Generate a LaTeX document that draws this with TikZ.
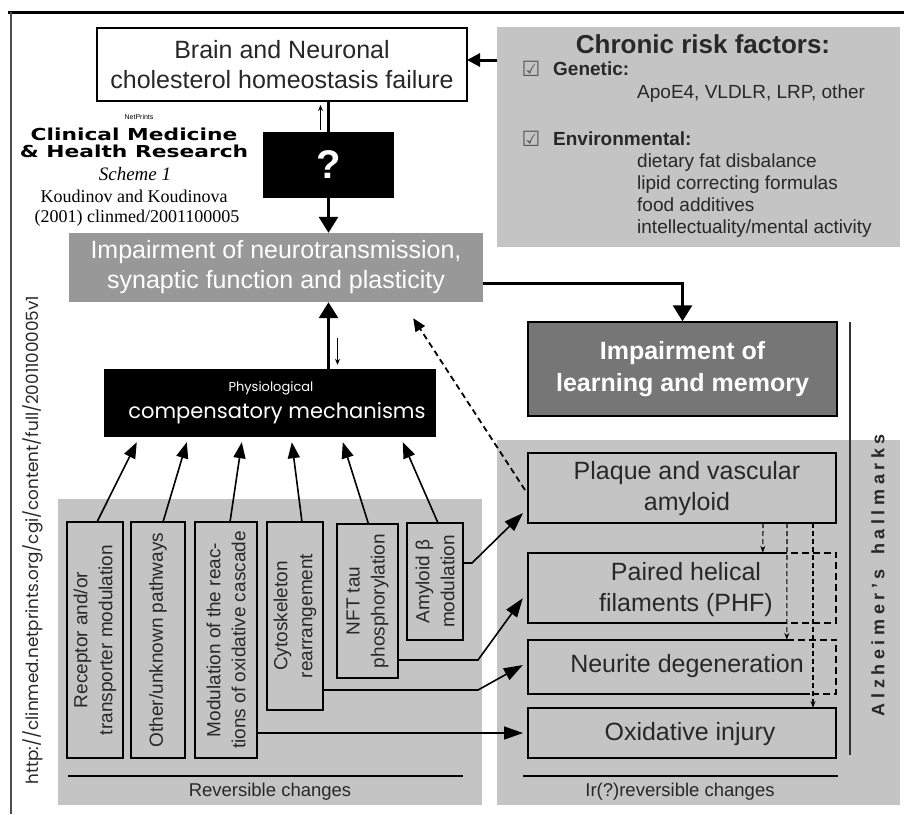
\documentclass[tikz,border=0pt]{standalone}
\usepackage{fontspec}
\setmainfont{Liberation Sans}
\newfontfamily\seriffont{Liberation Serif}
\newfontfamily\symfont{DejaVu Sans}
\newfontfamily\geofont{Poppins}
\newfontfamily\logofont{DejaVu Sans}[FakeStretch=1.32]
\usetikzlibrary{arrows.meta,calc}
\definecolor{regbg}{RGB}{196,196,196}
\definecolor{neurobg}{RGB}{152,152,152}
\definecolor{learnbg}{RGB}{118,118,118}
\definecolor{txtgray}{RGB}{40,40,40}
\newcommand\fs[2]{\fontsize{#1}{#2}\selectfont}
\newcommand\myls{\hspace{4.6pt}}
\begin{document}
\begin{tikzpicture}[x=1pt,y=-1pt,
  box/.style={draw=black,line width=1.5pt,inner sep=0pt,outer sep=0pt},
  lbox/.style={box,fill=regbg},
  vtext/.style={rotate=90,align=center,inner sep=0pt,font={\fs{19}{25}},text=txtgray},
  rtext/.style={align=center,inner sep=0pt,font={\fs{25}{31}},text=txtgray},
  bigarrow/.style={line width=3pt,-{Triangle[length=16pt,width=19pt]}},
  sidearrow/.style={line width=3pt,-{Triangle[length=13pt,width=13pt]}},
  medarrow/.style={line width=1.6pt,-{Triangle[length=16pt,width=12pt]}},
  rarrow/.style={line width=1.6pt,-{Triangle[length=19pt,width=13pt]}},
  thinarrow/.style={line width=0.9pt,-{Stealth[length=6pt,width=5pt]}},
  dasharrow/.style={line width=1.1pt,dash pattern=on 5pt off 3pt,-{Stealth[length=7pt,width=5pt]}},
  risktxt/.style={anchor=base west,inner sep=0pt,font={\fs{19}{22}},text=txtgray},
  cbox/.style={inner sep=0pt,font={\symfont\fs{21}{21}},text=black!65},
]
\fill[white] (0,0) rectangle (904,814);
\useasboundingbox (0,0) rectangle (904,814);

% frame
\draw[line width=3pt] (8,12) -- (904,12);
\draw[line width=2.5pt,black!70] (11,12) -- (11,814);

% gray regions
\fill[regbg] (58,499) rectangle (482,805);
\fill[regbg] (497,440) rectangle (900,805);

% chronic risk factors
\node[fill=regbg,minimum width=403,minimum height=220,inner sep=0pt] (risk) at (698.5,137) {};
\node[anchor=base,inner sep=0pt,font={\fs{26}{30}\bfseries},text=txtgray] (risktitle) at (703,53) {Chronic risk factors:};
\node[cbox] (cb1) at (531,69) {☑};
\node[risktxt,font={\fs{19}{22}\bfseries}] (gen) at (553,75) {Genetic:};
\node[risktxt] (genl) at (637,98) {ApoE4, VLDLR, LRP, other};
\node[cbox] (cb2) at (531,139) {☑};
\node[risktxt,font={\fs{19}{22}\bfseries}] (env) at (553,145) {Environmental:};
\node[risktxt] (env1) at (637,167) {dietary fat disbalance};
\node[risktxt] (env2) at (637,189) {lipid correcting formulas};
\node[risktxt] (env3) at (637,211) {food additives};
\node[risktxt] (env4) at (637,233) {intellectuality/mental activity};

% brain box
\node[box,line width=2pt,fill=white,minimum width=370,minimum height=73,align=center,font={\fs{25}{30}},text=txtgray] (brain) at (282,64.5) {Brain and Neuronal\\cholesterol homeostasis failure};
\draw[sidearrow] ($(risk.west)+(0,-77)$) -- ($(brain.east)+(0,-4.5)$);

% logo
\node[inner sep=0pt,font={\fs{7}{7}}] (np) at (139,117) {NetPrints};
\node[anchor=base,inner sep=0pt,font={\logofont\bfseries\fs{16.5}{17}}] (cm1) at (134,140) {Clinical Medicine};
\node[anchor=base,inner sep=0pt,font={\logofont\bfseries\fs{16.5}{17}}] (cm2) at (134,157) {\& Health Research};
\node[anchor=base,inner sep=0pt,font={\seriffont\itshape\fs{19}{19}}] (sch) at (135,180) {Scheme 1};
\node[anchor=base,inner sep=0pt,font={\seriffont\fs{18}{18}}] (kk1) at (134,202) {Koudinov and Koudinova};
\node[anchor=base,inner sep=0pt,font={\seriffont\fs{18}{18}}] (kk2) at (137,222) {(2001) clinmed/2001100005};

% question box
\node[fill=black,minimum width=131,minimum height=66,inner sep=0pt,text=white,font={\fs{40}{40}\bfseries}] (q) at (328.5,165) {?};
\draw[line width=3pt] (brain.south -| q.north) -- (q.north);
\draw[thinarrow] ($(q.north)+(-8,-2)$) -- ($(brain.south -| q.north)+(-8,4)$);

% neurotransmission
\node[fill=neurobg,minimum width=414,minimum height=69,inner sep=0pt,text=white,align=center,font={\fs{25}{30}}] (neuro) at (276,267.5) {Impairment of neurotransmission,\\synaptic function and plasticity};
\draw[bigarrow] (q.south) -- (q.south |- neuro.north);

% learning and memory
\node[draw=black,line width=1.5pt,fill=learnbg,minimum width=309,minimum height=94,inner sep=0pt,text=white,align=center,font={\fs{25}{32}\bfseries}] (learn) at (682.5,369) {Impairment of\\learning and memory};
\draw[bigarrow] ($(neuro.east)+(0,15.5)$) -| (learn.north);

% compensatory
\node[fill=black,minimum width=332,minimum height=68,inner sep=0pt] (comp) at (270,403) {};
\node[inner sep=0pt,text=white,font={\geofont\fs{13}{13}}] (compa) at (271,388) {Physiological};
\node[inner sep=0pt,text=white,font={\geofont\fs{21}{21}}] (compb) at (277,413) {compensatory mechanisms};
\draw[bigarrow] (comp.north -| q.south) -- (q.south |- neuro.south);
\draw[thinarrow] ($(neuro.south -| q.south)+(9,36)$) -- ($(comp.north -| q.south)+(9,-4)$);

% left boxes
\node[lbox,minimum width=56,minimum height=236] (L1) at (95,640) {};
\node[lbox,minimum width=54,minimum height=236] (L2) at (158,640) {};
\node[lbox,minimum width=62,minimum height=236] (L3) at (226,640) {};
\node[lbox,minimum width=56,minimum height=188] (L4) at (295,616) {};
\node[lbox,minimum width=61,minimum height=154] (L5) at (367.5,601) {};
\node[lbox,minimum width=56,minimum height=117] (L6) at (435,581.5) {};
\node[vtext] (L1t) at (L1) {Receptor and/or\\transporter modulation};
\node[vtext] (L2t) at (L2) {Other/unknown pathways};
\node[vtext] (L3t) at (L3) {Modulation of the reac-\\tions of oxidative cascade};
\node[vtext] (L4t) at (L4) {Cytoskeleton\\rearrangement};
\node[vtext] (L5t) at (L5) {NFT tau\\phosphorylation};
\node[vtext] (L6t) at (L6) {Amyloid β\\modulation};

\draw[medarrow] ($(L1.north)+(2,0)$) -- ($(comp.south west)+(33,5)$);
\draw[medarrow] ($(L2.north)+(5,0)$) -- ($(comp.south west)+(83,5)$);
\draw[medarrow] ($(L3.north)+(4,0)$) -- ($(comp.south west)+(138,5)$);
\draw[medarrow] ($(L4.north)+(7,0)$) -- ($(comp.south west)+(188,5)$);
\draw[medarrow] ($(L5.north)+(1,0)$) -- ($(comp.south west)+(239,5)$);
\draw[medarrow] ($(L6.north)+(3,0)$) -- ($(comp.south west)+(299,5)$);

% right boxes
\node[box,fill=regbg,minimum width=308,minimum height=70] (R1) at (682,488) {};
\node[rtext] (R1t) at (687,489) {Plaque and vascular\\amyloid};
\node[inner sep=0pt,minimum width=308,minimum height=70] (R2) at (682,588) {};
\node[rtext] (R2t) at (686,590) {Paired helical\\filaments (PHF)};
\node[inner sep=0pt,minimum width=308,minimum height=54] (R3) at (682,667) {};
\node[rtext] (R3t) at (687,666) {Neurite degeneration};
\node[box,fill=regbg,minimum width=308,minimum height=50] (R4) at (682,733) {};
\node[rtext] (R4t) at (690,734) {Oxidative injury};

\draw[line width=1.5pt] ($(R2.north west)+(252,0)$) -- (R2.north west) -- (R2.south west) -- ($(R2.south west)+(258,0)$);
\draw[line width=1.5pt,dash pattern=on 7pt off 4pt] ($(R2.north west)+(252,0)$) -- (R2.north east) -- (R2.south east) -- ($(R2.south west)+(258,0)$);
\draw[line width=1.5pt] ($(R3.north west)+(259,0)$) -- (R3.north west) -- (R3.south west) -- ($(R3.south west)+(282,0)$);
\draw[line width=1.5pt,dash pattern=on 7pt off 4pt] ($(R3.north west)+(259,0)$) -- (R3.north east) -- (R3.south east) -- ($(R3.south west)+(282,0)$);

\draw[dasharrow] ($(R1.south west)+(235,0)$) -- ($(R2.north west)+(235,0)$);
\draw[dasharrow] ($(R1.south west)+(259,0)$) -- ($(R3.north west)+(259,0)$);
\draw[dasharrow] ($(R1.south west)+(285,0)$) -- ($(R4.north west)+(285,0)$);

% left-to-right connections
\draw[rarrow] ($(L6.north east)+(0,40)$) -- ++(9,0) -- ($(R1.south west)+(-5,-10)$);
\draw[rarrow] ($(L5.south east)+(0,-18)$) -- ++(80,0) -- ($(R2.south west)+(-5,-25)$);
\draw[rarrow] ($(L4.south east)+(0,-20)$) -- ++(155,0) -- ($(R3.west)+(-5,-2)$);
\draw[rarrow] (L3.east |- R4.west) -- ($(R4.west)+(-5,0)$);

% dashed feedback
\draw[line width=1.8pt,dash pattern=on 6pt off 4pt,-{Triangle[length=13pt,width=11pt]}] ($(R1.north west)+(-3,37)$) -- ($(neuro.south east)+(-70,16)$);

% rules and labels
\draw[line width=1.5pt] (68,776) -- (463,776);
\node[inner sep=0pt,font={\fs{18.5}{20}},text=txtgray] (revl) at (270,792) {Reversible changes};
\draw[line width=1.5pt] (523,776) -- (838,776);
\node[inner sep=0pt,font={\fs{18.5}{20}},text=txtgray] (irrevl) at (680,792) {Ir(?)reversible changes};

% Alzheimer's hallmarks
\draw[line width=1.5pt,black!80] (850,322) -- (850,755);
\node[rotate=90,inner sep=0pt,font={\fs{18}{18}\bfseries},text=txtgray] (alz) at (878,575) {A\myls l\myls z\myls h\myls e\myls i\myls m\myls e\myls r\myls '\myls s\myls\ \myls h\myls a\myls l\myls l\myls m\myls a\myls r\myls k\myls s};

% URL
\node[rotate=90,inner sep=0pt,font={\geofont\fs{16.8}{17}},text=txtgray] (url) at (33,540) {http://clinmed.netprints.org/cgi/content/full/2001100005v1};
\end{tikzpicture}
\end{document}
